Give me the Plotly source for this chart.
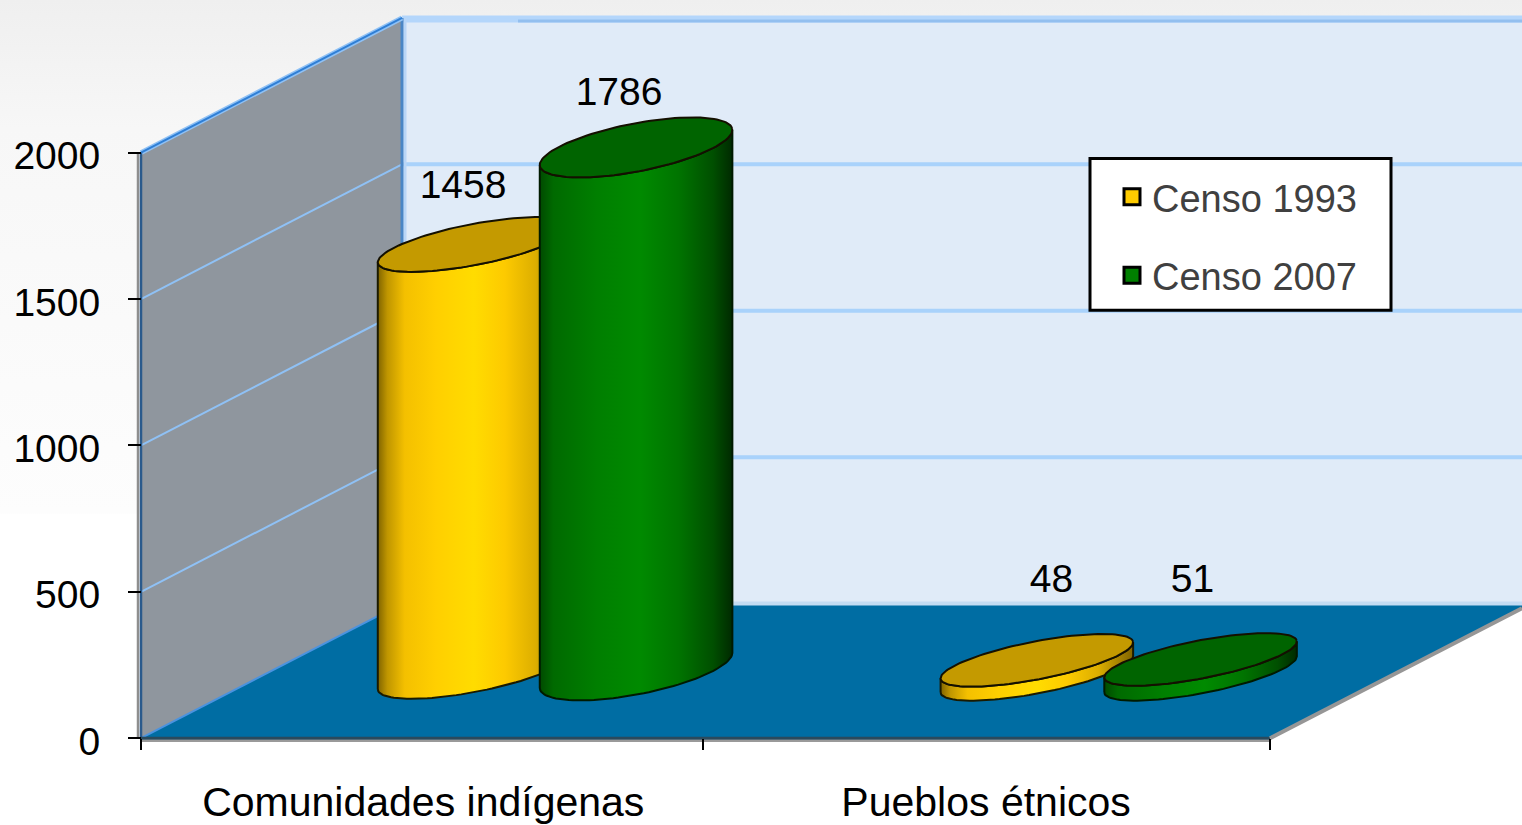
import numpy as np
import plotly.graph_objects as go

categories = ["Comunidades indígenas", "Pueblos étnicos"]
censo_1993 = [1458, 48]
censo_2007 = [1786, 51]
y_ticks = [0, 500, 1000, 1500, 2000]

W, H = 1522, 825
X0_PX, Y0_PX = 141, 740
UX = 564.5          # pixels per category
UY = 0.2935         # pixels per value unit
XMIN, XMAX = -X0_PX / UX, (W - X0_PX) / UX
YMIN, YMAX = (Y0_PX - H) / UY, Y0_PX / UY

DEPTH_X = 261 / UX   # oblique depth of the 3D box
DEPTH_Y = 135 / UY
A_PX, TILT = 98, np.radians(11)
# cylinder appearance per series and category: ellipse minor radius, base height (pixels)
MINOR_PX = [[20.5, 19], [24, 19]]
BASE_PX = [[67, 64], [68, 64]]


def px_x(dx):
    return dx / UX


def px_y(dy):
    return dy / UY


def ellipse(cx, cy, t, b):
    ex = A_PX * np.cos(t) * np.cos(TILT) - b * np.sin(t) * np.sin(TILT)
    ey = A_PX * np.cos(t) * np.sin(TILT) + b * np.sin(t) * np.cos(TILT)
    return cx + px_x(ex), cy + px_y(ey)


YELLOW_SCALE = [[0, "#806400"], [0.05, "#c09600"], [0.14, "#f4c000"], [0.3, "#ffcf00"],
                [0.5, "#ffdc00"], [0.66, "#fdca00"], [0.82, "#dcae00"], [1, "#806400"]]
GREEN_SCALE = [[0, "#004a00"], [0.07, "#006a00"], [0.3, "#007f00"], [0.52, "#008a00"],
               [0.72, "#007400"], [0.9, "#004f00"], [1, "#002a00"]]


def cylinder(fig, cx, value, base_px, b, scale, top_color):
    base = px_y(base_px)
    top = base + value
    t0 = np.arctan2(-b * np.sin(TILT), A_PX * np.cos(TILT))
    lower = np.linspace(t0 - np.pi, t0, 60)
    upper = lower[::-1]
    bx, by = ellipse(cx, base, lower, b)
    tx, ty = ellipse(cx, top, upper, b)
    fig.add_trace(go.Scatter(
        x=np.concatenate([bx, tx, bx[:1]]), y=np.concatenate([by, ty, by[:1]]),
        mode="lines", fill="toself", line=dict(color="#1a1a00" if top_color == "#c49a00" else "#001a00", width=2),
        fillgradient=dict(type="horizontal", colorscale=scale),
        showlegend=False, hoverinfo="skip", cliponaxis=False))
    t = np.linspace(0, 2 * np.pi, 120)
    ex, ey = ellipse(cx, top, t, b)
    fig.add_trace(go.Scatter(
        x=ex, y=ey, mode="lines", fill="toself", fillcolor=top_color,
        line=dict(color="#141000", width=2),
        showlegend=False, hoverinfo="skip", cliponaxis=False))


def deco(fig, xs, ys, color, width=0, fill=None):
    fig.add_trace(go.Scatter(
        x=xs, y=ys, mode="lines",
        line=dict(color=color, width=width),
        fill="toself" if fill else None, fillcolor=fill,
        showlegend=False, hoverinfo="skip", cliponaxis=False))


fig = go.Figure()

# page background
fig.add_trace(go.Scatter(
    x=[XMIN, XMAX, XMAX, XMIN, XMIN], y=[YMAX, YMAX, px_y(225), px_y(225), YMAX],
    mode="lines", line=dict(width=0), fill="toself",
    fillgradient=dict(type="vertical", colorscale=[[0, "#fdfdfd"], [0.75, "#f7f7f7"], [1, "#efefef"]]),
    showlegend=False, hoverinfo="skip", cliponaxis=False))

wall_top = y_ticks[-1] + DEPTH_Y
# back wall, side wall, floor
deco(fig, [DEPTH_X, XMAX, XMAX, DEPTH_X, DEPTH_X], [DEPTH_Y, DEPTH_Y, wall_top, wall_top, DEPTH_Y],
     "#e0ebf8", 0, "#e0ebf8")
deco(fig, [0, DEPTH_X, DEPTH_X, 0, 0], [0, DEPTH_Y, wall_top, y_ticks[-1], 0], "#8f969e", 0, "#8f969e")
deco(fig, [0, 2, XMAX, XMAX, DEPTH_X, 0], [0, 0, (XMAX - 2) * DEPTH_Y / DEPTH_X, DEPTH_Y, DEPTH_Y, 0],
     "#006da3", 0, "#006da3")

# gridlines
for v in y_ticks[1:]:
    deco(fig, [DEPTH_X, XMAX], [v + DEPTH_Y, v + DEPTH_Y], "#a9d2fb", 4)
    deco(fig, [0, DEPTH_X], [v, v + DEPTH_Y], "#8fc1f5", 2)
deco(fig, [DEPTH_X, XMAX], [DEPTH_Y, DEPTH_Y], "#c3dcf3", 4)
deco(fig, [DEPTH_X, XMAX], [wall_top + px_y(-1), wall_top + px_y(-1)], "#b4d6fb", 7)
deco(fig, [DEPTH_X + px_x(116), XMAX], [wall_top + px_y(-3), wall_top + px_y(-3)], "#93bfef", 3)

# wall edges and frame
deco(fig, [DEPTH_X + px_x(3), DEPTH_X + px_x(3)], [DEPTH_Y, wall_top], "#b9d6f7", 3)
deco(fig, [DEPTH_X, DEPTH_X], [DEPTH_Y, wall_top], "#4a86c6", 3)
deco(fig, [0, DEPTH_X], [y_ticks[-1], wall_top], "#8fc1f5", 5)
deco(fig, [0, DEPTH_X], [y_ticks[-1], wall_top], "#2f7fd6", 2)
deco(fig, [0, DEPTH_X], [0, DEPTH_Y], "#4b93df", 2)
deco(fig, [px_x(-3), px_x(-3)], [0, y_ticks[-1]], "#8e8e8e", 2.5)
deco(fig, [0, 0], [0, y_ticks[-1]], "#2a5a8c", 2.5)
deco(fig, [0, 2], [px_y(-2.5), px_y(-2.5)], "#9a9a9a", 2.5)
deco(fig, [0, 2], [0, 0], "#2b4a5c", 3)
deco(fig, [2, XMAX], [0, (XMAX - 2) * DEPTH_Y / DEPTH_X], "#969696", 4)

# cylinders: series in depth order, positions through the category scale
OFFSET_1993, OFFSET_2007 = 0.59, 0.877
for i in range(len(categories)):
    cylinder(fig, i + OFFSET_1993 - (0.003 if i else 0), censo_1993[i], BASE_PX[0][i], MINOR_PX[0][i],
             YELLOW_SCALE, "#c49a00")
    cylinder(fig, i + OFFSET_2007, censo_2007[i], BASE_PX[1][i], MINOR_PX[1][i], GREEN_SCALE, "#006400")

# value labels
label_dx = [[-11, 13], [-17, -8]]
label_dy = [[56, 78], [52, 77]]
for s, (vals, off) in enumerate([(censo_1993, OFFSET_1993), (censo_2007, OFFSET_2007)]):
    fig.add_trace(go.Scatter(
        x=[i + off + px_x(label_dx[s][i]) for i in range(2)],
        y=[px_y(BASE_PX[s][i]) + vals[i] + px_y(label_dy[s][i]) for i in range(2)],
        mode="text", text=[str(v) for v in vals], textposition="middle center",
        textfont=dict(family="Liberation Sans", size=39, color="#000000"),
        showlegend=False, hoverinfo="skip", cliponaxis=False))

# legend entries
for name, col in [("Censo 1993", "#ffcc00"), ("Censo 2007", "#008000")]:
    fig.add_trace(go.Scatter(
        x=[None], y=[None], mode="markers", name=name, legendgroup=name,
        marker=dict(symbol="square", size=16, color=col, line=dict(color="#000000", width=3))))

fig.update_layout(
    width=W, height=H, margin=dict(l=0, r=0, t=0, b=0), autosize=False,
    paper_bgcolor="#ffffff", plot_bgcolor="rgba(0,0,0,0)",
    font=dict(family="Liberation Sans", size=39, color="#000000"),
    xaxis=dict(range=[XMIN, XMAX], domain=[0, 1], anchor="free", position=(H - Y0_PX) / H,
               tickmode="array", tickvals=[0.5, 1.497], ticktext=categories,
               tickfont=dict(size=41),
               ticks="", showgrid=False, zeroline=False, showline=False,
               ticklabelstandoff=36,
               minor=dict(tickmode="array", tickvals=[0, 0.9956, 2], ticks="outside", ticklen=11,
                          tickwidth=2, tickcolor="#000000", showgrid=False)),
    yaxis=dict(range=[YMIN, YMAX], domain=[0, 1], anchor="free", position=X0_PX / W,
               tickmode="array", tickvals=y_ticks, ticks="outside", ticklen=13, tickwidth=2,
               tickcolor="#000000", showgrid=False, zeroline=False, showline=False,
               ticklabelstandoff=20, ticklabelshift=3),
    showlegend=True,
    legend=dict(x=1112 / W, y=1 - 166 / H, xanchor="left", yanchor="top",
                bgcolor="rgba(0,0,0,0)", borderwidth=0, tracegroupgap=26,
                font=dict(family="Liberation Sans", size=38, color="#404040")),
    shapes=[dict(type="rect", xref="paper", yref="paper", layer="above",
                 x0=1090 / W, x1=1391 / W, y0=1 - 311 / H, y1=1 - 159 / H,
                 fillcolor="#ffffff", line=dict(color="#000000", width=3))],
)

fig.write_html("out.html", config=dict(displayModeBar=False),
               post_script="document.body.style.margin='0';document.documentElement.style.overflow='hidden';")
